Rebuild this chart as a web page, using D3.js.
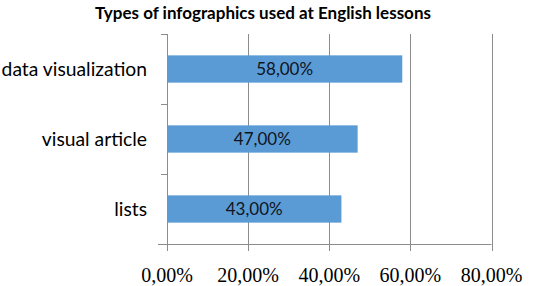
<!doctype html>
<html lang="en">
<head>
<meta charset="UTF-8" />
<title>Types of infographics</title>
<script src="https://d3js.org/d3.v7.min.js"></script>
<style>
    body, html { margin: 0; padding: 0; background: #fff; overflow: hidden; }
    svg { display: block; }
    .title { font-family: Lato, "Open Sans", sans-serif; font-weight: bold; font-size: 17px; fill: #000; }
    .cat { font-family: Lato, "Open Sans", sans-serif; font-size: 19.3px; fill: #000; }
    .val { font-family: Lato, "Open Sans", sans-serif; font-size: 17px; fill: #0f1420; }
    .tick-label { font-family: "Liberation Serif", "Times New Roman", serif; font-size: 20px; fill: #000; }
    .grid { stroke: #8c8c8c; stroke-width: 1px; }
</style>
</head>
<body>
<svg id="chart"></svg>
<script>
    const categories = ["data visualization", "visual article", "lists"];
    const values = [58, 47, 43];
    const tickValues = [0, 20, 40, 60, 80];

    const width = 534, height = 286;
    const plotLeft = 167, plotRight = 491.5, plotTop = 34, plotBottom = 244;

    const svg = d3.select("#chart").attr("width", width).attr("height", height);

    const fmt = v => v.toFixed(2).replace(".", ",") + "%";

    const x = d3.scaleLinear().domain([0, 80]).range([plotLeft, plotRight]);
    const y = d3.scaleBand().domain(categories).range([plotTop, plotBottom]).paddingInner(0.61).paddingOuter(0.305);

    svg.append("text")
        .attr("class", "title")
        .attr("x", 263)
        .attr("y", 19)
        .attr("text-anchor", "middle")
        .text("Types of infographics used at English lessons");

    // vertical gridlines, running a bit below the axis as tick marks
    svg.selectAll("line.vgrid")
        .data(tickValues)
        .join("line")
        .attr("class", "grid")
        .attr("x1", d => Math.round(x(d)) + 0.5)
        .attr("x2", d => Math.round(x(d)) + 0.5)
        .attr("y1", plotTop)
        .attr("y2", plotBottom + 7);

    // category boundary ticks on the left
    const bounds = [plotTop, plotTop + y.step(), plotTop + 2 * y.step()];
    svg.selectAll("line.ytick")
        .data(bounds)
        .join("line")
        .attr("class", "grid")
        .attr("x1", plotLeft - 6)
        .attr("x2", plotLeft)
        .attr("y1", d => Math.round(d) + 0.5)
        .attr("y2", d => Math.round(d) + 0.5);

    // x axis line
    svg.append("line")
        .attr("class", "grid")
        .attr("x1", plotLeft - 9)
        .attr("x2", plotRight)
        .attr("y1", plotBottom + 0.5)
        .attr("y2", plotBottom + 0.5);

    svg.selectAll("rect.bar")
        .data(values)
        .join("rect")
        .attr("fill", "#5b9bd5")
        .attr("x", x(0))
        .attr("y", (d, i) => y(categories[i]))
        .attr("width", d => x(d) - x(0))
        .attr("height", y.bandwidth());

    svg.selectAll("text.val")
        .data(values)
        .join("text")
        .attr("class", "val")
        .attr("x", d => (x(0) + x(d)) / 2)
        .attr("y", (d, i) => y(categories[i]) + y.bandwidth() / 2)
        .attr("dy", "0.36em")
        .attr("text-anchor", "middle")
        .text(fmt);

    svg.selectAll("text.cat")
        .data(categories)
        .join("text")
        .attr("class", "cat")
        .attr("x", 147)
        .attr("y", d => y(d) + y.bandwidth() / 2)
        .attr("dy", "0.36em")
        .attr("text-anchor", "end")
        .text(d => d);

    svg.selectAll("text.tick-label")
        .data(tickValues)
        .join("text")
        .attr("class", "tick-label")
        .attr("x", d => x(d))
        .attr("y", 282)
        .attr("text-anchor", "middle")
        .text(fmt);
</script>
</body>
</html>
